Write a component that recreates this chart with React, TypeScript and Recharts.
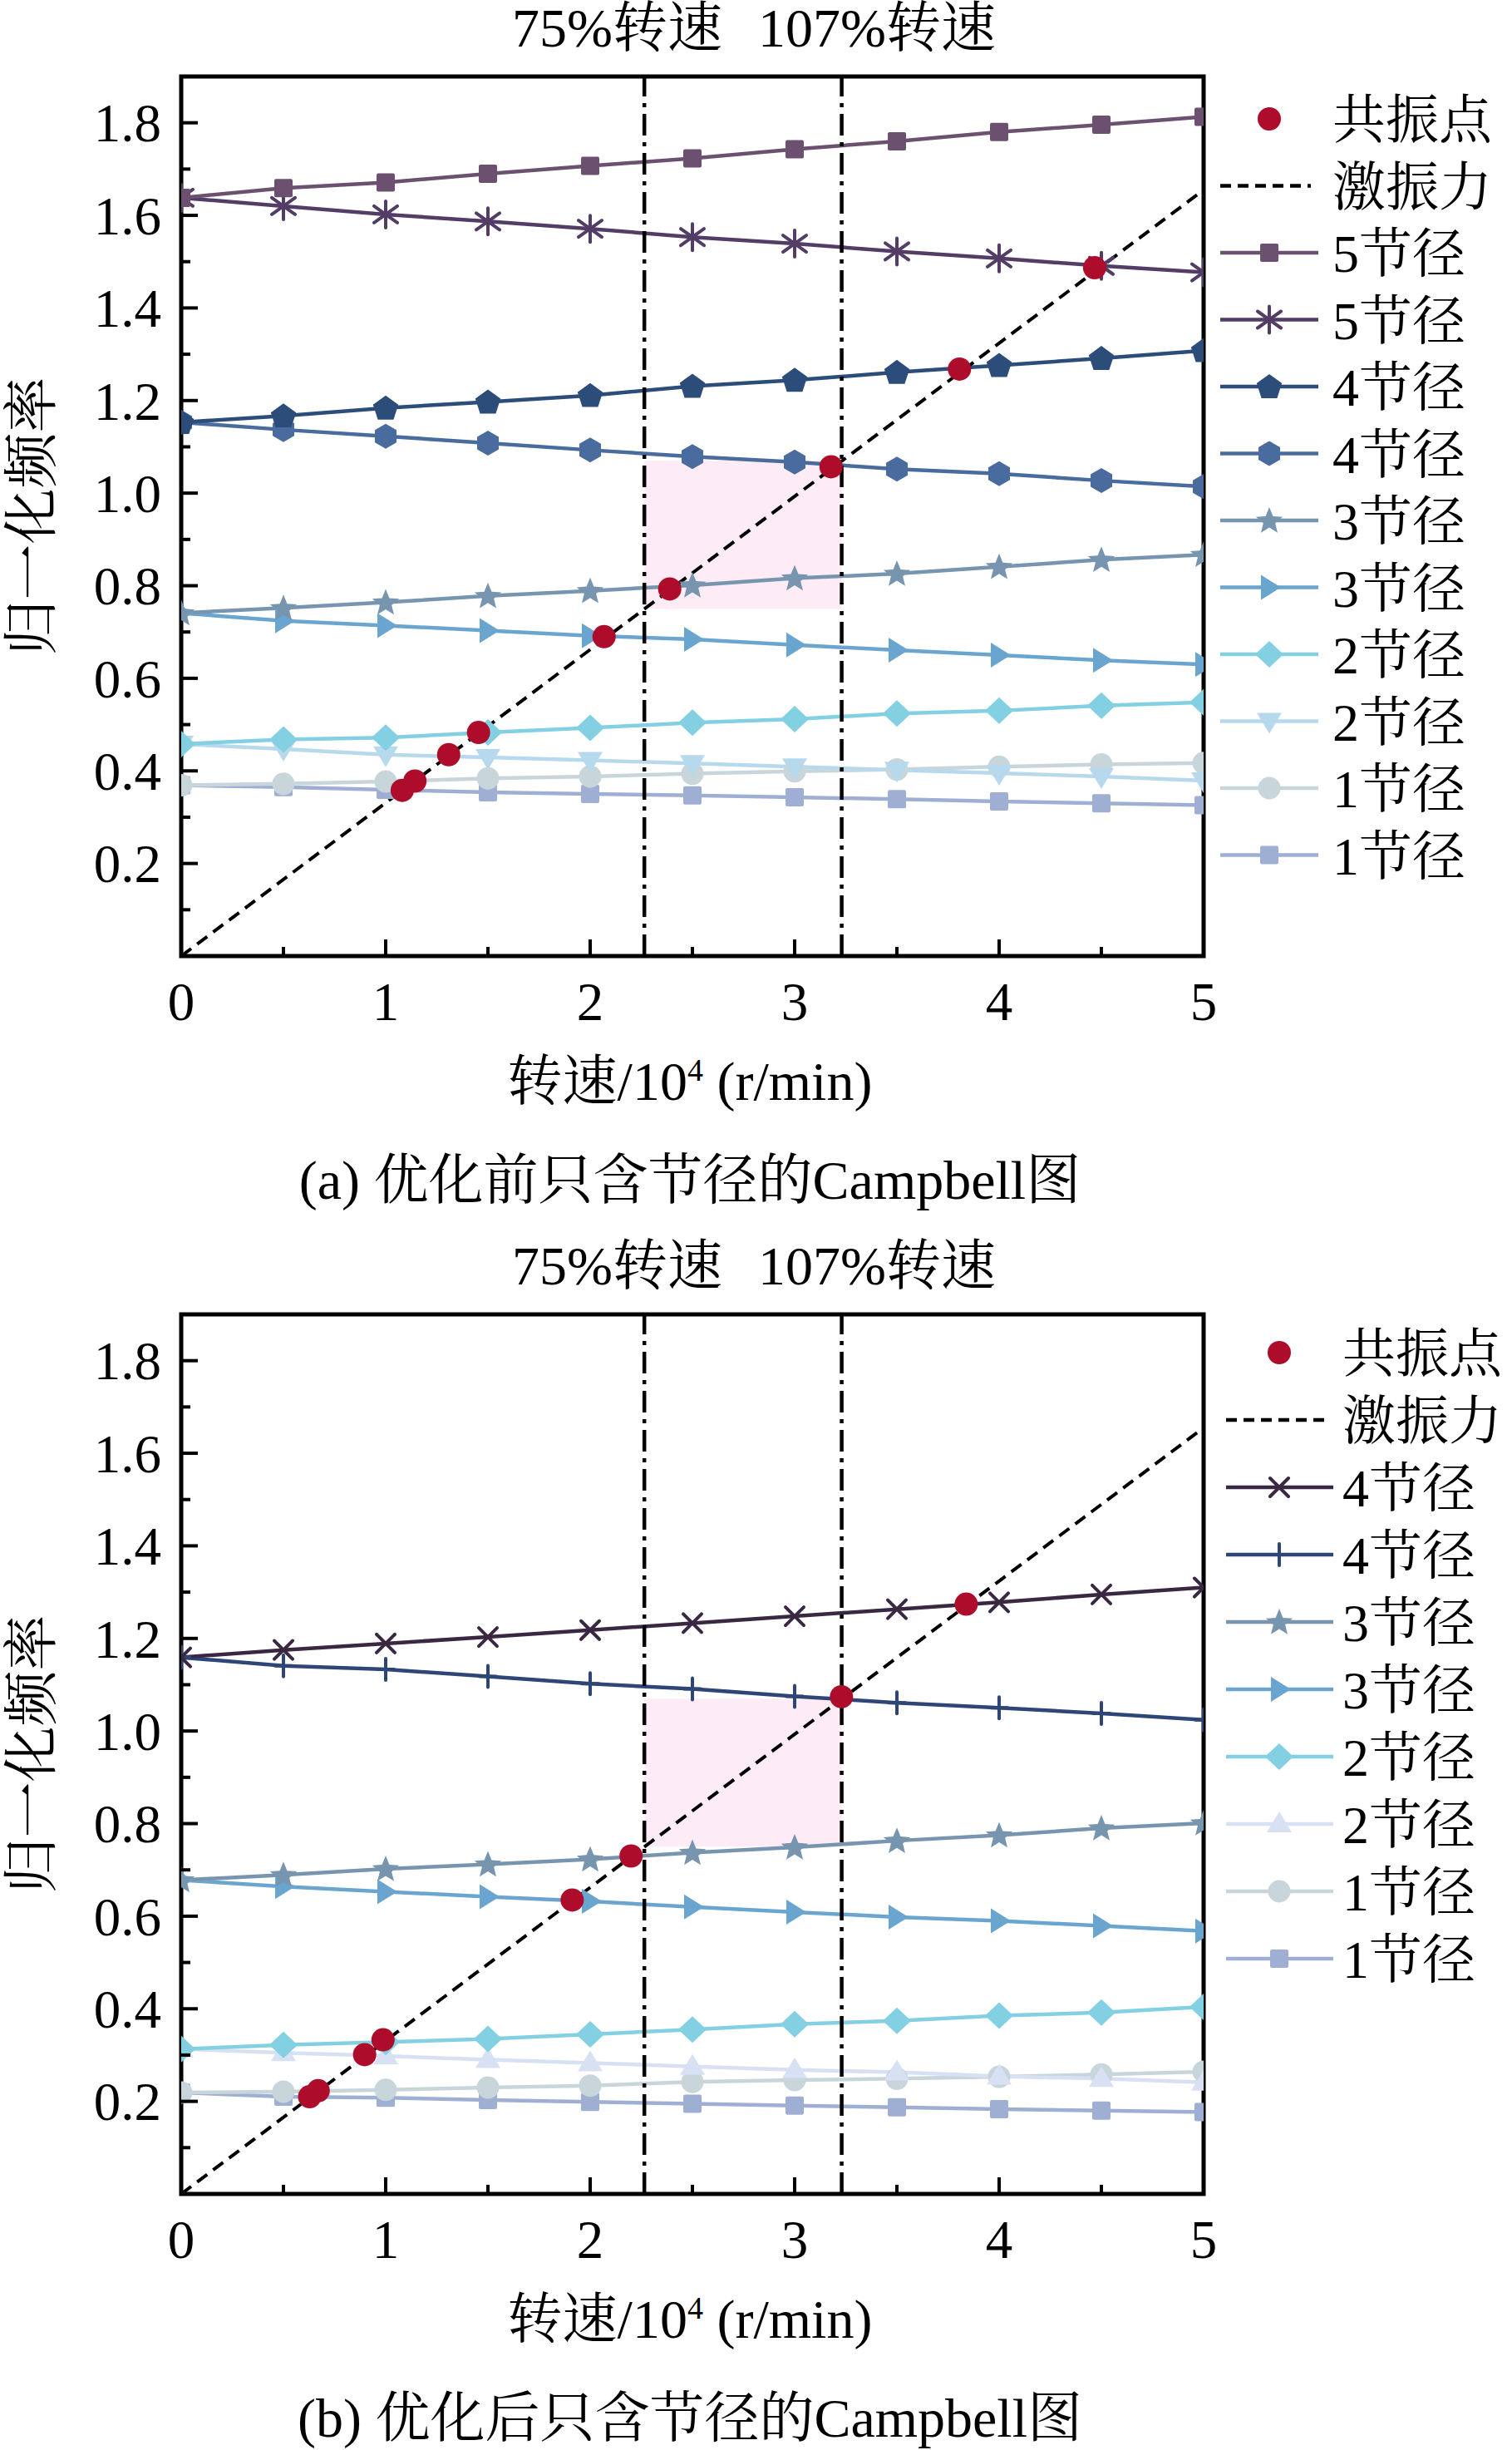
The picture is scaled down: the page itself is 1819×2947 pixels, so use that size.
import React from "react";
import {
  ComposedChart,
  Line,
  Scatter,
  XAxis,
  YAxis,
  ReferenceArea,
  ReferenceLine,
} from "recharts";

const FONT = '"Liberation Serif", "Times New Roman", "Noto Serif CJK SC", "Noto Sans CJK SC", serif';

// speed axis (10^4 r/min)
const speeds = [0, 0.5, 1, 1.5, 2, 2.5, 3, 3.5, 4, 4.5, 5];
const xMajor = [0, 1, 2, 3, 4, 5];
const xMinor = [0.5, 1.5, 2.5, 3.5, 4.5];
const yMajor = [0.2, 0.4, 0.6, 0.8, 1.0, 1.2, 1.4, 1.6, 1.8];
const yMajorLabels = ["0.2", "0.4", "0.6", "0.8", "1.0", "1.2", "1.4", "1.6", "1.8"];
const yMinor = [0.1, 0.3, 0.5, 0.7, 0.9, 1.1, 1.3, 1.5, 1.7, 1.9];

// 75% / 107% rated speed and the band between them
const speedLimits = [2.265, 3.23];
const bandFreq = [0.75, 1.07];

// excitation line
const forceX = [0, 5];
const forceY = [0, 1.655];

// (a) before optimisation
const a5Up = [1.638, 1.659, 1.671, 1.69, 1.707, 1.723, 1.743, 1.76, 1.78, 1.796, 1.813];
const a5Down = [1.638, 1.62, 1.602, 1.587, 1.571, 1.553, 1.539, 1.522, 1.507, 1.491, 1.477];
const a4Up = [1.153, 1.167, 1.184, 1.197, 1.211, 1.231, 1.244, 1.261, 1.276, 1.291, 1.308];
const a4Down = [1.153, 1.137, 1.123, 1.108, 1.093, 1.079, 1.067, 1.052, 1.042, 1.027, 1.014];
const a3Up = [0.741, 0.752, 0.764, 0.778, 0.789, 0.801, 0.816, 0.826, 0.841, 0.856, 0.867];
const a3Down = [0.741, 0.724, 0.714, 0.703, 0.692, 0.684, 0.672, 0.661, 0.65, 0.639, 0.63];
const a2Up = [0.458, 0.468, 0.472, 0.483, 0.493, 0.504, 0.512, 0.524, 0.53, 0.541, 0.548];
const a2Down = [0.458, 0.447, 0.435, 0.429, 0.423, 0.416, 0.409, 0.402, 0.395, 0.388, 0.379];
const a1Up = [0.369, 0.372, 0.377, 0.384, 0.388, 0.394, 0.399, 0.403, 0.409, 0.414, 0.417];
const a1Down = [0.369, 0.365, 0.359, 0.354, 0.35, 0.347, 0.343, 0.339, 0.334, 0.33, 0.326];
const aResX = [1.081, 1.143, 1.308, 1.454, 2.068, 2.389, 3.178, 3.806, 4.467];
const aResY = [0.358, 0.378, 0.435, 0.483, 0.69, 0.793, 1.057, 1.268, 1.487];

// (b) after optimisation
const b4Up = [1.159, 1.175, 1.189, 1.203, 1.218, 1.233, 1.248, 1.263, 1.278, 1.295, 1.31];
const b4Down = [1.159, 1.141, 1.133, 1.118, 1.102, 1.091, 1.075, 1.061, 1.05, 1.038, 1.024];
const b3Up = [0.678, 0.689, 0.702, 0.712, 0.723, 0.737, 0.749, 0.763, 0.775, 0.79, 0.801];
const b3Down = [0.678, 0.664, 0.653, 0.642, 0.632, 0.62, 0.609, 0.598, 0.59, 0.579, 0.568];
const b2Up = [0.313, 0.322, 0.328, 0.335, 0.345, 0.355, 0.367, 0.374, 0.385, 0.392, 0.404];
const b2Down = [0.313, 0.305, 0.298, 0.29, 0.283, 0.275, 0.268, 0.263, 0.254, 0.249, 0.241];
const b1Up = [0.219, 0.221, 0.225, 0.23, 0.234, 0.242, 0.246, 0.249, 0.253, 0.258, 0.264];
const b1Down = [0.219, 0.21, 0.208, 0.203, 0.199, 0.195, 0.191, 0.187, 0.183, 0.18, 0.177];
const bResX = [0.628, 0.67, 0.897, 0.987, 1.912, 2.2, 3.229, 3.839];
const bResY = [0.21, 0.223, 0.301, 0.333, 0.635, 0.73, 1.074, 1.274];

const RED = "#ad0d2b";

type Shape =
  | "square" | "asterisk" | "pentagon" | "hexagon" | "star" | "triRight"
  | "diamond" | "triDown" | "triUp" | "circle" | "cross" | "plus";

interface Series {
  name: string;
  values: number[];
  color: string;
  shape: Shape;
}

const seriesA: Series[] = [
  { name: "5节径", values: a5Up, color: "#6c5070", shape: "square" },
  { name: "5节径", values: a5Down, color: "#533d66", shape: "asterisk" },
  { name: "4节径", values: a4Up, color: "#2c4c7a", shape: "pentagon" },
  { name: "4节径", values: a4Down, color: "#4a6b9d", shape: "hexagon" },
  { name: "3节径", values: a3Up, color: "#7895b0", shape: "star" },
  { name: "3节径", values: a3Down, color: "#6aa5cf", shape: "triRight" },
  { name: "2节径", values: a2Up, color: "#82d0e2", shape: "diamond" },
  { name: "2节径", values: a2Down, color: "#b7d9ee", shape: "triDown" },
  { name: "1节径", values: a1Up, color: "#c8d5db", shape: "circle" },
  { name: "1节径", values: a1Down, color: "#9eafd3", shape: "square" },
];

const seriesB: Series[] = [
  { name: "4节径", values: b4Up, color: "#3a2843", shape: "cross" },
  { name: "4节径", values: b4Down, color: "#2e4677", shape: "plus" },
  { name: "3节径", values: b3Up, color: "#7895b0", shape: "star" },
  { name: "3节径", values: b3Down, color: "#6aa5cf", shape: "triRight" },
  { name: "2节径", values: b2Up, color: "#82d0e2", shape: "diamond" },
  { name: "2节径", values: b2Down, color: "#d7e1f3", shape: "triUp" },
  { name: "1节径", values: b1Up, color: "#c8d5db", shape: "circle" },
  { name: "1节径", values: b1Down, color: "#9eafd3", shape: "square" },
];

const poly = (cx: number, cy: number, n: number, r: number, start: number) =>
  Array.from({ length: n }, (_, i) => {
    const a = ((start + (360 / n) * i) * Math.PI) / 180;
    return `${cx + r * Math.cos(a)},${cy + r * Math.sin(a)}`;
  }).join(" ");

const starPts = (cx: number, cy: number, ro: number, ri: number) =>
  Array.from({ length: 10 }, (_, i) => {
    const a = ((-90 + 36 * i) * Math.PI) / 180;
    const r = i % 2 === 0 ? ro : ri;
    return `${cx + r * Math.cos(a)},${cy + r * Math.sin(a)}`;
  }).join(" ");

function Marker({ shape, cx, cy, color }: { shape: Shape; cx: number; cy: number; color: string }) {
  switch (shape) {
    case "square":
      return <rect x={cx - 11} y={cy - 11} width={22} height={22} rx={2} fill={color} />;
    case "asterisk":
      return (
        <g stroke={color} strokeWidth={4} strokeLinecap="round">
          <line x1={cx} y1={cy - 16} x2={cx} y2={cy + 16} />
          <line x1={cx - 14} y1={cy - 10} x2={cx + 14} y2={cy + 10} />
          <line x1={cx - 14} y1={cy + 10} x2={cx + 14} y2={cy - 10} />
        </g>
      );
    case "pentagon":
      return <polygon points={poly(cx, cy + 1, 5, 16, -90)} fill={color} />;
    case "hexagon":
      return <polygon points={poly(cx, cy, 6, 15, -90)} fill={color} />;
    case "star":
      return <polygon points={starPts(cx, cy + 1, 17, 7.5)} fill={color} />;
    case "triRight":
      return <polygon points={`${cx - 10},${cy - 15} ${cx + 14},${cy} ${cx - 10},${cy + 15}`} fill={color} />;
    case "diamond":
      return <polygon points={`${cx},${cy - 16} ${cx + 17},${cy} ${cx},${cy + 16} ${cx - 17},${cy}`} fill={color} />;
    case "triDown":
      return <polygon points={`${cx - 15},${cy - 10} ${cx + 15},${cy - 10} ${cx},${cy + 15}`} fill={color} />;
    case "triUp":
      return <polygon points={`${cx - 15},${cy + 10} ${cx + 15},${cy + 10} ${cx},${cy - 15}`} fill={color} />;
    case "circle":
      return <circle cx={cx} cy={cy} r={13.5} fill={color} />;
    case "cross":
      return (
        <g stroke={color} strokeWidth={4} strokeLinecap="round">
          <line x1={cx - 11} y1={cy - 11} x2={cx + 11} y2={cy + 11} />
          <line x1={cx - 11} y1={cy + 11} x2={cx + 11} y2={cy - 11} />
        </g>
      );
    case "plus":
      return (
        <g stroke={color} strokeWidth={4} strokeLinecap="round">
          <line x1={cx} y1={cy - 13} x2={cx} y2={cy + 13} />
          <line x1={cx - 10} y1={cy} x2={cx + 10} y2={cy} />
        </g>
      );
  }
  return null;
}

const near = (a: number, b: number) => Math.abs(a - b) < 1e-6;

const XTick = (props: any) => {
  const { x, y, payload } = props;
  const v = payload.value as number;
  const major = xMajor.some((m) => near(m, v));
  return (
    <g>
      <line x1={x} y1={y} x2={x} y2={y - (major ? 20 : 11)} stroke="#000" strokeWidth={4} />
      {major && (
        <text x={x} y={y + 54} dy="0.35em" textAnchor="middle" fontSize={65} fontFamily={FONT} fill="#000">
          {String(v)}
        </text>
      )}
    </g>
  );
};

const YTick = (props: any) => {
  const { x, y, payload } = props;
  const v = payload.value as number;
  const idx = yMajor.findIndex((m) => near(m, v));
  const major = idx >= 0;
  return (
    <g>
      <line x1={x} y1={y} x2={x + (major ? 20 : 11)} y2={y} stroke="#000" strokeWidth={4} />
      {major && (
        <text x={x - 24} y={y} dy="0.35em" textAnchor="end" fontSize={65} fontFamily={FONT} fill="#000">
          {yMajorLabels[idx]}
        </text>
      )}
    </g>
  );
};

interface LegendGeom {
  x1: number;
  x2: number;
  mx: number;
  tx: number;
  top: number;
  step: number;
}

function LegendBox({ series, g }: { series: Series[]; g: LegendGeom }) {
  return (
    <svg
      width={379}
      height={1100}
      style={{ position: "absolute", left: 1440, top: 0, overflow: "visible" }}
      fontFamily={FONT}
    >
      <circle cx={g.mx} cy={g.top} r={14} fill={RED} />
      <text x={g.tx} y={g.top} dy="0.36em" fontSize={64} fill="#000">共振点</text>
      <line x1={g.x1} y1={g.top + g.step} x2={g.x2 - 9} y2={g.top + g.step} stroke="#000" strokeWidth={4.5} strokeDasharray="13 8" />
      <text x={g.tx} y={g.top + g.step} dy="0.36em" fontSize={64} fill="#000">激振力</text>
      {series.map((s, i) => {
        const cy = g.top + g.step * (i + 2);
        return (
          <g key={i}>
            <line x1={g.x1} y1={cy} x2={g.x2} y2={cy} stroke={s.color} strokeWidth={4.5} />
            <Marker shape={s.shape} cx={g.mx} cy={cy} color={s.color} />
            <text x={g.tx} y={cy} dy="0.36em" fontSize={64} fill="#000">{s.name}</text>
          </g>
        );
      })}
    </svg>
  );
}

const textStyle: React.CSSProperties = {
  position: "absolute",
  fontFamily: FONT,
  fontSize: 66,
  lineHeight: 1,
  whiteSpace: "nowrap",
  color: "#000",
};

function Panel({
  top,
  series,
  resX,
  resY,
  caption,
  legend,
}: {
  top: number;
  series: Series[];
  resX: number[];
  resY: number[];
  caption: string;
  legend: LegendGeom;
}) {
  const forceRows = forceX.map((x, i) => ({ x, y: forceY[i] }));
  const resRows = resX.map((x, i) => ({ x, y: resY[i] }));
  const xTicks = [...xMajor, ...xMinor].sort((a, b) => a - b);
  const yTicks = [...yMajor, ...yMinor].sort((a, b) => a - b);
  const drawOrder = series.map((s, i) => ({ s, i })).reverse();

  return (
    <div style={{ position: "absolute", left: 0, top, width: 1819, height: 1489 }}>
      <div style={{ position: "absolute", left: 0, top: 0 }}>
        <ComposedChart width={1819} height={1300} margin={{ top: 92, right: 371, bottom: 90, left: 158 }}>
          <XAxis
            type="number"
            dataKey="x"
            domain={[0, 5]}
            ticks={xTicks}
            interval={0}
            height={60}
            axisLine={false}
            tickLine={false}
            tickSize={0}
            tickMargin={0}
            tick={<XTick />}
            allowDataOverflow
          />
          <YAxis
            type="number"
            dataKey="y"
            domain={[0, 1.9]}
            ticks={yTicks}
            interval={0}
            width={60}
            axisLine={false}
            tickLine={false}
            tickSize={0}
            tickMargin={0}
            tick={<YTick />}
            allowDataOverflow
          />
          <ReferenceArea
            x1={speedLimits[0]}
            x2={speedLimits[1]}
            y1={bandFreq[0]}
            y2={bandFreq[1]}
            fill="#fdebf5"
            fillOpacity={1}
            stroke="none"
          />
          {drawOrder.map(({ s, i }) => (
            <Line
              key={`s${i}`}
              data={speeds.map((x, k) => ({ x, y: s.values[k] }))}
              dataKey="y"
              name={s.name}
              stroke={s.color}
              strokeWidth={4.5}
              activeDot={false}
              legendType="none"
              isAnimationActive={false}
              dot={(p: any) => (
                <Marker key={`m${i}-${p.index}`} shape={s.shape} cx={p.cx} cy={p.cy} color={s.color} />
              )}
            />
          ))}
          <Line
            data={forceRows}
            dataKey="y"
            name="激振力"
            stroke="#000"
            strokeWidth={4}
            strokeDasharray="15 9"
            dot={false}
            activeDot={false}
            isAnimationActive={false}
          />
          {speedLimits.map((x, i) => (
            <ReferenceLine key={`v${i}`} x={x} stroke="#000" strokeWidth={4.5} strokeDasharray="26 8 5 8" />
          ))}
          <Scatter
            data={resRows}
            dataKey="y"
            name="共振点"
            fill={RED}
            isAnimationActive={false}
            shape={(p: any) => <circle cx={p.cx} cy={p.cy} r={14} fill={RED} />}
          />
          <ReferenceArea x1={0} x2={5} y1={0} y2={1.9} fill="none" stroke="#000" strokeWidth={5} />
        </ComposedChart>
      </div>

      <div style={{ ...textStyle, left: 616, top: 34, transform: "translateY(-50%)" }}>75%转速</div>
      <div style={{ ...textStyle, left: 912, top: 34, transform: "translateY(-50%)" }}>107%转速</div>

      <div style={{ ...textStyle, fontSize: 67, left: 38, top: 621, transform: "translate(-50%, -50%) rotate(-90deg)" }}>
        归一化频率
      </div>

      <div style={{ ...textStyle, left: 830, top: 1301, transform: "translate(-50%, -50%)" }}>
        转速/10<sup style={{ fontSize: 38, verticalAlign: "top", lineHeight: 1 }}>4</sup> (r/min)
      </div>

      <div style={{ ...textStyle, left: 830, top: 1420, transform: "translate(-50%, -50%)" }}>{caption}</div>

      <LegendBox series={series} g={legend} />
    </div>
  );
}

export default function App() {
  return (
    <div style={{ position: "absolute", left: 0, top: 0, width: 1819, height: 2947, background: "#fff" }}>
      <Panel
        top={0}
        series={seriesA}
        resX={aResX}
        resY={aResY}
        caption="(a) 优化前只含节径的Campbell图"
        legend={{ x1: 28, x2: 146, mx: 87, tx: 163, top: 143, step: 80.5 }}
      />
      <Panel
        top={1489}
        series={seriesB}
        resX={bResX}
        resY={bResY}
        caption="(b) 优化后只含节径的Campbell图"
        legend={{ x1: 35, x2: 164, mx: 99, tx: 175, top: 138, step: 81 }}
      />
    </div>
  );
}
